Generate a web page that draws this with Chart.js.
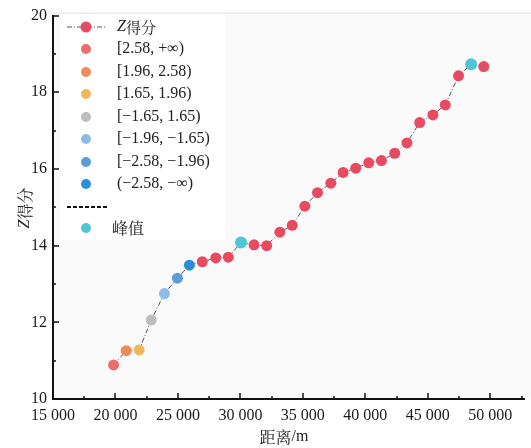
<!DOCTYPE html>
<html>
<head>
<meta charset="utf-8">
<script src="https://cdn.jsdelivr.net/npm/chart.js@4/dist/chart.umd.min.js"></script>
<style>
  body { margin: 0; background: #fff; }
  #wrap { position: relative; width: 531px; height: 448px; }
</style>
</head>
<body>
<div id="wrap"><canvas id="chart" width="531" height="448"></canvas></div>
<script>
// Data
const distance = [19850, 20860, 21900, 22860, 23920, 24960, 25920, 26950, 28030, 29030,
  30050, 31090, 32100, 33160, 34150, 35160, 36170, 37240, 38220, 39230,
  40270, 41290, 42350, 43330, 44350, 45410, 46400, 47460, 48470, 49480];
const zScore = [10.89, 11.26, 11.28, 12.06, 12.75, 13.15, 13.49, 13.58, 13.68, 13.70,
  14.08, 14.02, 14.00, 14.35, 14.53, 15.03, 15.38, 15.63, 15.91, 16.02,
  16.16, 16.22, 16.41, 16.68, 17.21, 17.41, 17.67, 18.43, 18.73, 18.67];
// class of each point: 0..6 = Z interval, 'z' = plain Z score, 'peak' = peak
const pointClass = [0, 1, 2, 3, 4, 5, 6, 'z', 'z', 'z',
  'peak', 'z', 'z', 'z', 'z', 'z', 'z', 'z', 'z', 'z',
  'z', 'z', 'z', 'z', 'z', 'z', 'z', 'z', 'peak', 'z'];

const classLabels = ['[2.58, +∞)', '[1.96, 2.58)', '[1.65, 1.96)', '[−1.65, 1.65)',
  '[−1.96, −1.65)', '[−2.58, −1.96)', '(−2.58, −∞)'];
const classColors = ['#ea6f6c', '#ef8c5a', '#f1b85a', '#bdbdbd', '#8dbde6', '#5a9ed8', '#2b8fd8'];
const zColor = '#e84a62';
const peakColor = '#4fc6d4';

const xTicks = [15000, 20000, 25000, 30000, 35000, 40000, 45000, 50000];
const xMinor = [17500, 22500, 27500, 32500, 37500, 42500, 47500, 52500];
const yTicks = [10, 12, 14, 16, 18, 20];
const yMinor = [11, 13, 15, 17, 19];

const serif = '"Liberation Serif", "Times New Roman", serif';
const cjk = '"Noto Serif CJK SC", "Noto Sans CJK SC", serif';

function colorOf(c){
  if(c === 'z') return zColor;
  if(c === 'peak') return peakColor;
  return classColors[c];
}
function fmt(v){
  return String(v).replace(/\B(?=(\d{3})+$)/g, ' ');
}
function dot(ctx, x, y, r, color){
  ctx.beginPath();
  ctx.arc(x, y, r, 0, Math.PI * 2);
  ctx.fillStyle = color;
  ctx.fill();
}

// -------------------- Decorations: background, inward ticks, legend, titles --------------------
const decor = {
  id: 'decor',
  beforeDraw(chart){
    const {ctx, chartArea: a} = chart;
    ctx.save();
    ctx.fillStyle = '#fafafa';
    ctx.fillRect(a.left, a.top - 3, chart.width - a.left, a.bottom - a.top + 3);
    ctx.strokeStyle = '#e2e2e2';
    ctx.lineWidth = 1;
    ctx.beginPath();
    ctx.moveTo(a.left, a.top - 2.5);
    ctx.lineTo(chart.width, a.top - 2.5);
    ctx.stroke();
    ctx.restore();
  },
  afterDraw(chart){
    const {ctx, chartArea: a, scales: {x, y}} = chart;
    ctx.save();
    ctx.strokeStyle = '#111';
    ctx.lineWidth = 1.5;
    const seg = (x1, y1, x2, y2) => { ctx.beginPath(); ctx.moveTo(x1, y1); ctx.lineTo(x2, y2); ctx.stroke(); };
    xTicks.forEach(v => { const p = Math.round(x.getPixelForValue(v)); seg(p, a.bottom, p, a.bottom - 6); });
    xMinor.forEach(v => { const p = Math.round(x.getPixelForValue(v)); seg(p, a.bottom, p, a.bottom - 3); });
    yTicks.forEach(v => { const p = Math.round(y.getPixelForValue(v)); seg(a.left, p, a.left + 6, p); });
    yMinor.forEach(v => { const p = Math.round(y.getPixelForValue(v)); seg(a.left, p, a.left + 3, p); });

    // legend box
    ctx.fillStyle = '#fff';
    ctx.fillRect(60, 14, 165, 226);
    const rowY = [27, 49, 72, 94, 117, 139, 162, 184, 207, 228];
    const mx = 86, tx = 117;
    ctx.textBaseline = 'middle';

    // Z得分 row
    ctx.strokeStyle = '#555';
    ctx.lineWidth = 1;
    ctx.setLineDash([5, 2, 1, 2]);
    seg(67, rowY[0], 105, rowY[0]);
    ctx.setLineDash([]);
    dot(ctx, mx, rowY[0], 5.5, zColor);
    ctx.fillStyle = '#222';
    ctx.font = 'italic 16px ' + serif;
    ctx.fillText('Z', tx, rowY[0]);
    const zw = ctx.measureText('Z').width;
    ctx.font = '15px ' + cjk;
    ctx.fillText('得分', tx + zw, rowY[0]);

    classLabels.forEach((lab, i) => {
      dot(ctx, mx, rowY[i + 1], 5, classColors[i]);
      ctx.fillStyle = '#222';
      ctx.font = '16px ' + serif;
      ctx.fillText(lab, tx, rowY[i + 1]);
    });

    // dashed line row
    ctx.strokeStyle = '#111';
    ctx.lineWidth = 2;
    ctx.setLineDash([4, 2]);
    seg(67, rowY[8], 107, rowY[8]);
    ctx.setLineDash([]);

    // 峰值 row
    dot(ctx, mx, rowY[9], 5, peakColor);
    ctx.fillStyle = '#222';
    ctx.font = '16px ' + cjk;
    ctx.fillText('峰值', 112, rowY[9]);

    // axis titles
    ctx.textAlign = 'left';
    ctx.font = '16px ' + cjk;
    const t1 = ctx.measureText('距离').width;
    ctx.font = '16px ' + serif;
    const t2 = ctx.measureText('/m').width;
    const sx = 284 - (t1 + t2) / 2;
    ctx.font = '16px ' + cjk;
    ctx.fillText('距离', sx, 437);
    ctx.font = '16px ' + serif;
    ctx.fillText('/m', sx + t1, 437);

    ctx.translate(25, 208);
    ctx.rotate(-Math.PI / 2);
    ctx.font = 'italic 16px ' + serif;
    const w1 = ctx.measureText('Z').width;
    ctx.font = '16px ' + cjk;
    const w2 = ctx.measureText('得分').width;
    const start = -(w1 + w2) / 2;
    ctx.font = 'italic 16px ' + serif;
    ctx.fillText('Z', start, 0);
    ctx.font = '16px ' + cjk;
    ctx.fillText('得分', start + w1, 0);
    ctx.restore();
  }
};

// -------------------- Chart --------------------
const ctx = document.getElementById('chart').getContext('2d');
new Chart(ctx, {
  type: 'scatter',
  data: {
    datasets: [{
      label: 'Z得分',
      data: distance.map((d, i) => ({x: d, y: zScore[i]})),
      showLine: true,
      borderColor: '#555',
      borderWidth: 1,
      borderDash: [5, 2, 1, 2],
      pointBackgroundColor: pointClass.map(colorOf),
      pointBorderWidth: 0,
      pointRadius: pointClass.map(c => c === 'peak' ? 6 : 5.5),
      pointHoverRadius: 6
    }]
  },
  options: {
    responsive: false,
    animation: false,
    layout: { padding: { top: 15, right: 7, left: 0, bottom: 0 } },
    plugins: { legend: { display: false }, tooltip: { enabled: false } },
    scales: {
      x: {
        type: 'linear',
        min: 15000,
        max: 52700,
        afterBuildTicks: s => { s.ticks = xTicks.map(v => ({value: v})); },
        afterFit: s => { s.height = 49; },
        grid: { display: false, drawTicks: false },
        border: { display: true, color: '#111', width: 2 },
        ticks: {
          padding: 7,
          color: '#1a1a1a',
          font: { family: serif, size: 16 },
          maxRotation: 0,
          callback: v => fmt(v)
        }
      },
      y: {
        min: 10,
        max: 20,
        afterBuildTicks: s => { s.ticks = yTicks.map(v => ({value: v})); },
        afterFit: s => { s.width = 53; },
        grid: { display: false, drawTicks: false },
        border: { display: true, color: '#111', width: 2 },
        ticks: {
          padding: 6,
          color: '#1a1a1a',
          font: { family: serif, size: 16 }
        }
      }
    }
  },
  plugins: [decor]
});
</script>
</body>
</html>
